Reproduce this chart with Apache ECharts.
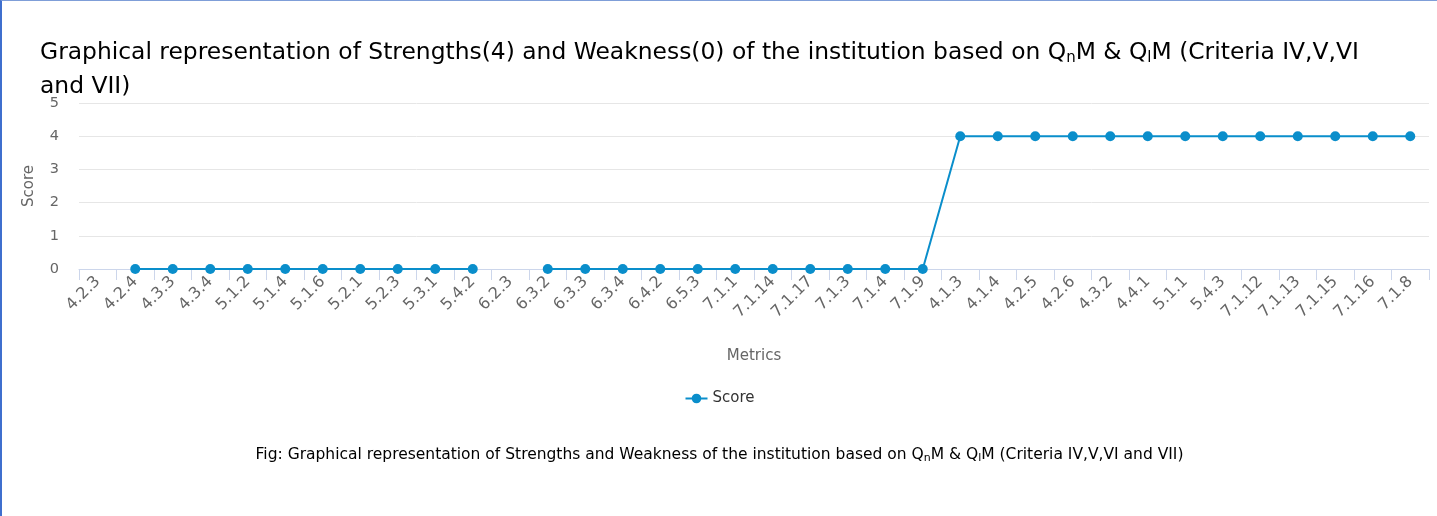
<!DOCTYPE html>
<html>
<head>
<meta charset="utf-8">
<script src="https://cdn.jsdelivr.net/npm/echarts@6/dist/echarts.min.js"></script>
<style>
    html, body { margin: 0; padding: 0; background: #fff; }
    #chart {
        width: 1437px;
        height: 516px;
        box-sizing: border-box;
        border-left: 2px solid #3f6fce;
        border-top: 1px solid #7f9ed8;
    }
</style>
</head>
<body>
<div id="chart"></div>
<script>
// Metrics (x categories)
const metrics = ['4.2.3', '4.2.4', '4.3.3', '4.3.4', '5.1.2', '5.1.4', '5.1.6', '5.2.1', '5.2.3', '5.3.1', '5.4.2',
    '6.2.3', '6.3.2', '6.3.3', '6.3.4', '6.4.2', '6.5.3', '7.1.1', '7.1.14', '7.1.17', '7.1.3', '7.1.4', '7.1.9',
    '4.1.3', '4.1.4', '4.2.5', '4.2.6', '4.3.2', '4.4.1', '5.1.1', '5.4.3', '7.1.12', '7.1.13', '7.1.15', '7.1.16', '7.1.8'];

// Score per metric (null = no point drawn)
const scores = [null, 0, 0, 0, 0, 0, 0, 0, 0, 0, 0,
    null, 0, 0, 0, 0, 0, 0, 0, 0, 0, 0, 0,
    4, 4, 4, 4, 4, 4, 4, 4, 4, 4, 4, 4, 4];

const yTicks = [0, 1, 2, 3, 4, 5];

const FONT = 'DejaVu Sans';

document.addEventListener('DOMContentLoaded', function () {
    const chart = echarts.init(document.getElementById('chart'));
    const option = {
        animation: false,
        color: ['#0a8ecb'],
        title: [{
            text: 'Graphical representation of Strengths(4) and Weakness(0) of the institution based on Q{s|n}M & Q{s|l}M (Criteria IV,V,VI\n{b|and VII)}',
            left: 33,
            top: 30,
            textStyle: {
                fontFamily: FONT,
                fontSize: 23.4,
                fontWeight: 'normal',
                color: '#000',
                lineHeight: 34,
                rich: {
                    s: { fontFamily: FONT, fontSize: 15, color: '#000', padding: [10, 0, 0, 0] },
                    b: { fontFamily: FONT, fontSize: 23.4, color: '#000' }
                }
            }
        }, {
            text: 'Fig: Graphical representation of Strengths and Weakness of the institution based on Q{s|n}M & Q{s|l}M (Criteria IV,V,VI and VII)',
            left: 'center',
            top: 440,
            textStyle: {
                fontFamily: FONT,
                fontSize: 15.5,
                fontWeight: 'normal',
                color: '#000',
                rich: {
                    s: { fontFamily: FONT, fontSize: 11, color: '#000', padding: [7, 0, 0, 0] }
                }
            }
        }],
        legend: {
            data: ['Score'],
            top: 385,
            left: 'center',
            itemWidth: 22,
            itemHeight: 12,
            textStyle: { fontFamily: FONT, fontSize: 15, color: '#333' }
        },
        grid: {
            left: 77,
            right: 8,
            top: 102,
            bottom: 247
        },
        xAxis: {
            type: 'category',
            data: metrics,
            boundaryGap: true,
            name: 'Metrics',
            nameLocation: 'middle',
            nameGap: 80,
            nameTextStyle: { fontFamily: FONT, fontSize: 15, color: '#666' },
            axisLine: { lineStyle: { color: '#ccd6eb', width: 1 } },
            axisTick: { show: true, length: 11, lineStyle: { color: '#ccd6eb' } },
            axisLabel: {
                rotate: 45,
                interval: 0,
                margin: 10,
                fontFamily: FONT,
                fontSize: 16,
                color: '#666'
            },
            splitLine: { show: false }
        },
        yAxis: {
            type: 'value',
            min: yTicks[0],
            max: yTicks[yTicks.length - 1],
            interval: 1,
            name: 'Score',
            nameLocation: 'middle',
            nameGap: 42,
            nameTextStyle: { fontFamily: FONT, fontSize: 15, color: '#666' },
            axisLine: { show: false },
            axisTick: { show: false },
            axisLabel: { fontFamily: FONT, fontSize: 14.5, color: '#666', margin: 20 },
            splitLine: { lineStyle: { color: '#e6e6e6' } }
        },
        series: [{
            name: 'Score',
            type: 'line',
            data: scores,
            connectNulls: false,
            symbol: 'circle',
            symbolSize: 10,
            lineStyle: { width: 2 },
            itemStyle: { color: '#0a8ecb' }
        }]
    };
    chart.setOption(option);
});
</script>
</body>
</html>
